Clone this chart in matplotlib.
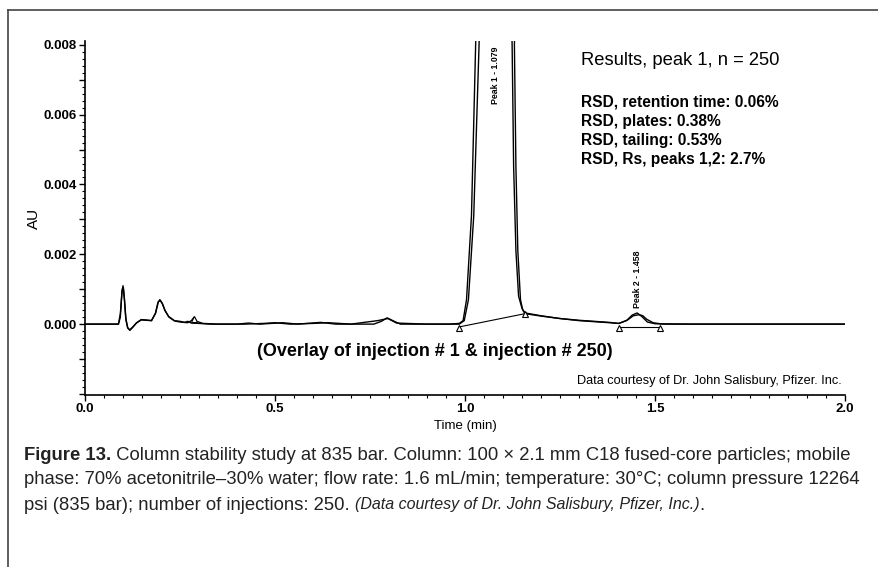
import matplotlib
matplotlib.use("Agg")
import matplotlib.pyplot as plt
from matplotlib.lines import Line2D
from matplotlib.ticker import MultipleLocator, FuncFormatter

W, H = 879, 567

# chromatogram, injection #1 (time in min, absorbance in AU)
inj1_time = [0.00, 0.088, 0.093, 0.097, 0.100, 0.103, 0.107, 0.112, 0.118, 0.125,
             0.135, 0.148, 0.160, 0.175, 0.185, 0.192, 0.197, 0.203, 0.210, 0.220,
             0.235, 0.250, 0.262, 0.270, 0.280, 0.300, 0.330, 0.400, 0.430, 0.460,
             0.520, 0.560, 0.620, 0.660, 0.760, 0.780, 0.795, 0.810, 0.830, 0.900,
             0.960, 0.985, 0.995, 1.004, 1.017, 1.028, 1.031, 1.079, 1.133, 1.130,
             1.134, 1.139, 1.146, 1.152, 1.158, 1.200, 1.250, 1.300, 1.380, 1.405,
             1.425, 1.440, 1.453, 1.465, 1.480, 1.500, 1.600, 1.800, 2.000]
inj1_au = [0.0, 0.0, 0.0002, 0.0009, 0.0011, 0.0008, 0.0002, -0.0001, -0.00018, -0.0001,
           0.00003, 0.00013, 0.00012, 0.0001, 0.0003, 0.00062, 0.0007, 0.0006, 0.0004, 0.00022,
           0.0001, 0.00008, 0.00005, 0.00008, 0.00003, 0.00002, 0.0, 0.0, 0.00003, 0.0,
           0.00004, 0.0, 0.00005, 0.0, 0.0, 0.00008, 0.00018, 0.0001, 0.0, 0.0,
           0.0, 0.00002, 0.0001, 0.0007, 0.0031, 0.0080, 0.0095, 0.0300, 0.0095, 0.0080,
           0.0045, 0.0021, 0.0007, 0.0004, 0.0003, 0.00023, 0.00016, 0.00011, 0.00005, 0.00002,
           0.0001, 0.00026, 0.00032, 0.00022, 0.00006, 0.00001, 0.0, 0.0, 0.0]

# injection #250
inj250_time = [0.00, 0.088, 0.093, 0.098, 0.101, 0.104, 0.108, 0.113, 0.118, 0.126,
               0.136, 0.148, 0.160, 0.175, 0.186, 0.193, 0.198, 0.204, 0.211, 0.221,
               0.236, 0.250, 0.270, 0.280, 0.287, 0.294, 0.310, 0.350, 0.420, 0.470,
               0.500, 0.540, 0.600, 0.640, 0.700, 0.770, 0.797, 0.820, 0.900, 0.960,
               0.985, 0.998, 1.009, 1.023, 1.037, 1.040, 1.079, 1.121, 1.124, 1.128,
               1.134, 1.141, 1.150, 1.158, 1.200, 1.250, 1.300, 1.380, 1.405, 1.428,
               1.443, 1.458, 1.468, 1.478, 1.495, 1.520, 1.700, 1.900, 2.000]
inj250_au = [0.0, 0.0, 0.0003, 0.001, 0.00105, 0.0007, 0.0001, -0.00012, -0.00016, -0.00008,
             0.00004, 0.00012, 0.00011, 0.0001, 0.00032, 0.00064, 0.00068, 0.00058, 0.00038, 0.0002,
             0.00009, 0.00006, 0.00004, 0.0001, 0.0002, 0.00008, 0.00002, 0.0, 0.0, 0.00002,
             0.00004, 0.0, 0.00002, 0.00004, 0.0, 0.0001, 0.00016, 0.00003, 0.0, 0.0,
             0.0, 0.0001, 0.0007, 0.0031, 0.0080, 0.0095, 0.0300, 0.0095, 0.0080, 0.0045,
             0.0021, 0.0008, 0.00045, 0.00032, 0.00024, 0.00016, 0.0001, 0.00004, 0.00002, 0.00012,
             0.00024, 0.00027, 0.00024, 0.00014, 0.00004, 0.0, 0.0, 0.0, 0.0]

# integration baselines and their start/end marks
base1_time = [0.985, 1.158]
base1_au = [-0.00008, 0.0003]
base2_time = [1.404, 1.513]
base2_au = [-0.00008, -0.00008]
mark_time = [0.287, 0.985, 1.158, 1.404, 1.513]
mark_au = [0.00014, -0.00012, 0.00028, -0.00012, -0.00012]

peak_labels = ["Peak 1 - 1.079", "Peak 2 - 1.458"]
peak_label_time = [1.079, 1.453]
peak_label_au = [0.0063, 0.00045]

results_title = "Results, peak 1, n = 250"
results_lines = ["RSD, retention time: 0.06%", "RSD, plates: 0.38%",
                 "RSD, tailing: 0.53%", "RSD, Rs, peaks 1,2: 2.7%"]

plt.rcParams['font.family'] = ['Liberation Sans', 'DejaVu Sans']

fig = plt.figure(figsize=(W / 100, H / 100), dpi=100)
ax = fig.add_axes([85 / W, 1 - 395 / H, 760 / W, (395 - 41.3) / H])

ax.plot(inj1_time, inj1_au, color='black', lw=1.0)
ax.plot(inj250_time, inj250_au, color='black', lw=1.0)
ax.plot(base1_time, base1_au, color='black', lw=0.8)
ax.plot(base2_time, base2_au, color='black', lw=0.8)
ax.plot(mark_time, mark_au, ls='none', marker='^', ms=4, mfc='white', mec='black', mew=0.8)

for lab, t, y in zip(peak_labels, peak_label_time, peak_label_au):
    ax.text(t, y, lab, rotation=90, ha='center', va='bottom', fontsize=6.3, fontweight='bold')

ax.set_xlim(0, 2.0)
ax.set_ylim(-0.00203, 0.0081)
for s in ['top', 'right']:
    ax.spines[s].set_visible(False)
for s in ['left', 'bottom']:
    ax.spines[s].set_linewidth(1.2)

ax.xaxis.set_major_locator(MultipleLocator(0.5))
ax.xaxis.set_minor_locator(MultipleLocator(0.05))
ax.xaxis.set_major_formatter(FuncFormatter(lambda v, p: f"{v:.1f}"))
ax.yaxis.set_major_locator(MultipleLocator(0.001))
ax.yaxis.set_minor_locator(MultipleLocator(0.0002))
ax.yaxis.set_major_formatter(FuncFormatter(
    lambda v, p: f"{v:.3f}" if round(v * 1000) % 2 == 0 and v > -0.0015 else ""))
ax.tick_params(which='major', length=4, width=1, pad=2, labelsize=9.5)
ax.tick_params(which='minor', length=2, width=0.8)
for lab in ax.get_xticklabels() + ax.get_yticklabels():
    lab.set_fontweight('bold')

ax.set_xlabel("Time (min)", fontsize=9.5, labelpad=3)
ax.set_ylabel("AU", fontsize=11, labelpad=2)

ax.text(581 / W, 1 - 61 / H, results_title, transform=fig.transFigure,
        fontsize=13.2, va='center', ha='left')
for i, line in enumerate(results_lines):
    ax.text(581 / W, 1 - (102 + i * 19.3) / H, line, transform=fig.transFigure,
            fontsize=11.2, fontweight='bold', va='center', ha='left')

fig.text(435 / W, 1 - 351 / H, "(Overlay of injection # 1 & injection # 250)",
         fontsize=13, fontweight='bold', ha='center', va='center')
fig.text(842 / W, 1 - 381 / H, "Data courtesy of Dr. John Salisbury, Pfizer. Inc.",
         fontsize=9.2, ha='right', va='center')

# frame around the figure block
fig.add_artist(Line2D([8 / W, 8 / W], [1 - 10 / H, 0], color='#444444', lw=1.2))
fig.add_artist(Line2D([8 / W, 1], [1 - 10 / H, 1 - 10 / H], color='#444444', lw=1.2))

# caption, written in runs so bold / italic parts follow each other
renderer = fig.canvas.get_renderer()


def put_runs(x, y, runs):
    for txt, kw in runs:
        t = fig.text(x / W, 1 - y / H, txt, va='center', ha='left', color='#222222', **kw)
        x += t.get_window_extent(renderer).width


cap = dict(fontsize=13.3)
put_runs(24, 455, [("Figure 13.", dict(fontsize=13.3, fontweight='bold')),
                   (" Column stability study at 835 bar. Column: 100 × 2.1 mm C18 "
                    "fused-core particles; mobile", cap)])
put_runs(24, 480, [("phase: 70% acetonitrile–30% water; flow rate: 1.6 mL/min; "
                    "temperature: 30°C; column pressure 12264", cap)])
put_runs(24, 505, [("psi (835 bar); number of injections: 250. ", cap),
                   ("(Data courtesy of Dr. John Salisbury, Pfizer, Inc.)",
                    dict(fontsize=11.5, fontstyle='italic')),
                   (".", cap)])

fig.savefig("out.png", dpi=100)
